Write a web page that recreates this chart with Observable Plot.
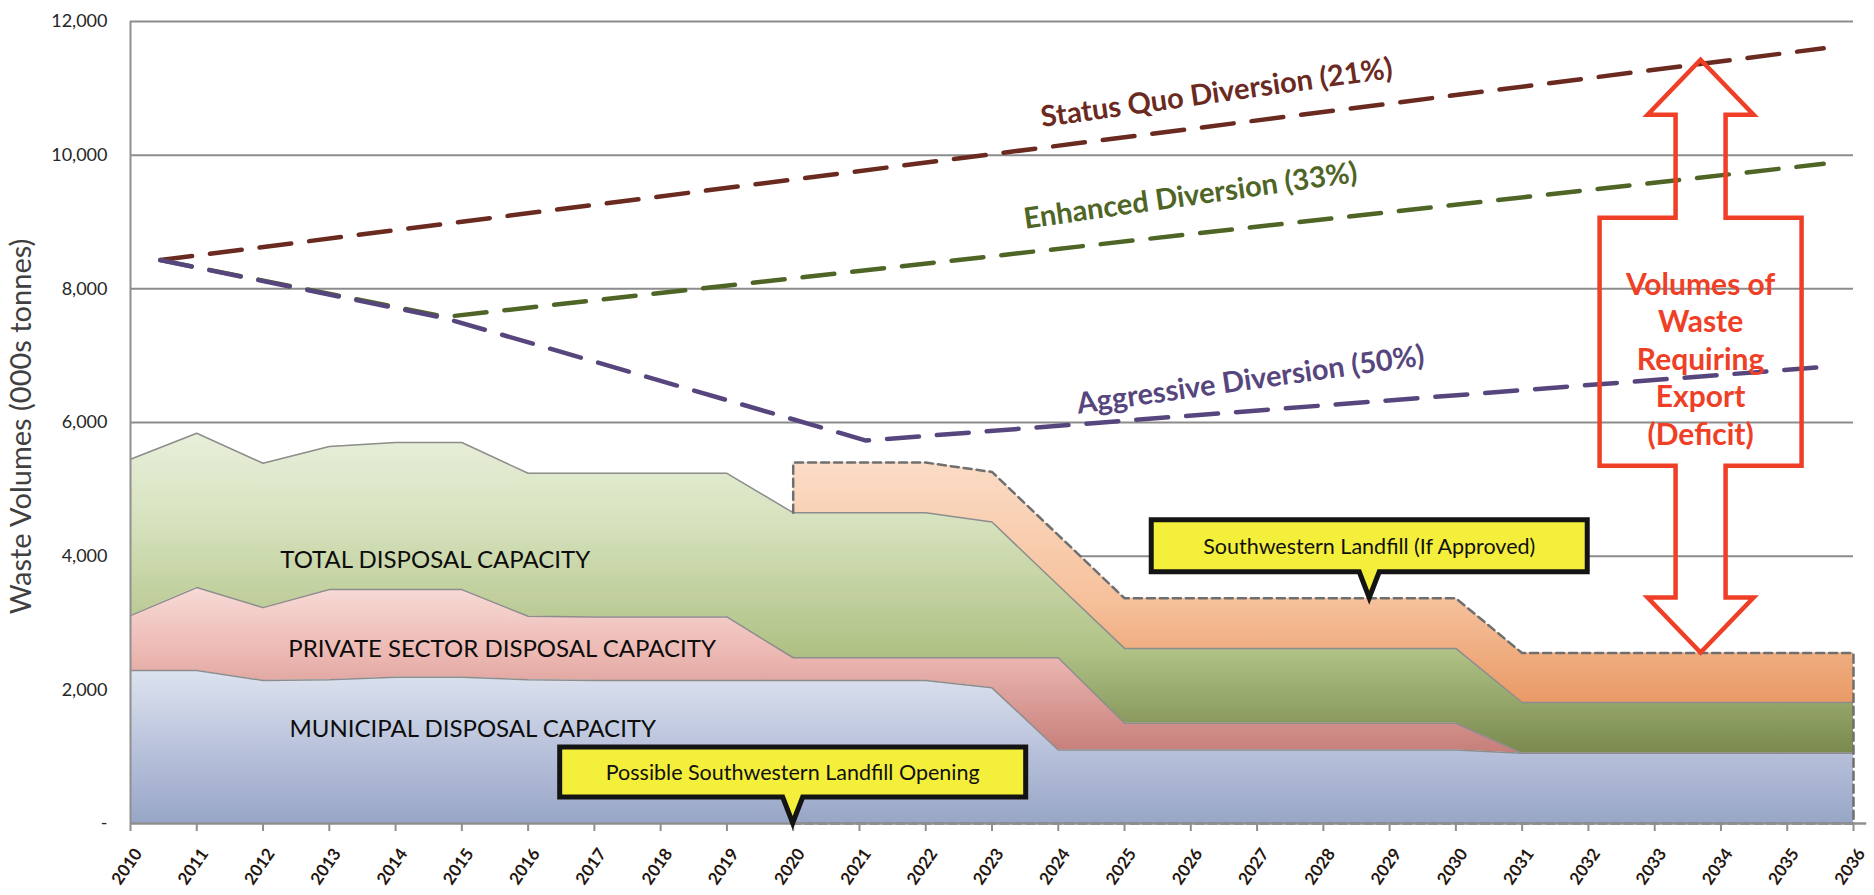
<!DOCTYPE html>
<html>
<head>
<meta charset="utf-8">
<script src="https://cdn.jsdelivr.net/npm/d3@7"></script>
<script src="https://cdn.jsdelivr.net/npm/@observablehq/plot@0.6"></script>
<style>
  html, body { margin: 0; padding: 0; background: #ffffff; }
  #chart svg { display: block; }
</style>
</head>
<body>
<div id="chart"></div>
<script>
// ---------- data ----------
const years = [2010,2011,2012,2013,2014,2015,2016,2017,2018,2019,2020,2021,2022,2023,2024,2025,2026,2027,2028,2029,2030,2031,2032,2033,2034,2035,2036];
const yTicks = [0, 2000, 4000, 6000, 8000, 10000, 12000];

// capacity bands (000s tonnes)
const municipal     = [2290,2290,2140,2150,2190,2190,2150,2140,2140,2140,2140,2140,2140,2030,1100,1100,1100,1100,1100,1100,1100,1050,1050,1050,1050,1050,1050];
const privateSector = [820,1240,1090,1350,1310,1310,950,950,950,950,340,340,340,450,1380,400,400,400,400,400,400,0,0,0,0,0,0];
const totalCapacity = [5450,5840,5390,5640,5700,5700,5240,5240,5240,5240,4650,4650,4650,4510,3565,2620,2620,2620,2620,2620,2620,1810,1810,1810,1810,1810,1810];

// Southwestern landfill (if approved), stacked on total capacity
const landfillYears = [2020,2021,2022,2023,2024,2025,2026,2027,2028,2029,2030,2031,2032,2033,2034,2035,2036];
const landfill      = [750,750,750,750,750,750,750,750,750,750,750,740,740,740,740,740,740];

// diversion scenarios (vertices)
const statusQuoX = [2010.45, 2035.55];
const statusQuoY = [8430, 11600];
const enhancedX  = [2010.45, 2014.75, 2035.55];
const enhancedY  = [8430, 7580, 9870];
const aggressiveX = [2010.45, 2014.75, 2021.1, 2035.55];
const aggressiveY = [8430, 7560, 5730, 6830];

const yLabel = "Waste Volumes (000s tonnes)";
const arrowLines = ["Volumes of", "Waste", "Requiring", "Export", "(Deficit)"];

// ---------- tables ----------
const rows = years.map((year, i) => ({
  year,
  mun: municipal[i],
  priv: municipal[i] + privateSector[i],
  total: totalCapacity[i]
}));
const lfRows = landfillYears.map((year, i) => {
  const t = totalCapacity[years.indexOf(year)];
  return {year, base: t, top: t + landfill[i]};
});
const outline = [{year: lfRows[0].year, v: lfRows[0].base}]
  .concat(lfRows.map(d => ({year: d.year, v: d.top})))
  .concat([{year: landfillYears[landfillYears.length - 1], v: 0}, {year: landfillYears[0], v: 0}]);
const toPts = (xs, ys) => xs.map((x, i) => ({x, y: ys[i]}));
const sq = toPts(statusQuoX, statusQuoY);
const en = toPts(enhancedX, enhancedY);
const ag = toPts(aggressiveX, aggressiveY);

const FONT = "Lato, 'Open Sans', sans-serif";
const dash = {strokeDasharray: "32,18", strokeWidth: 4.5, strokeLinecap: "round"};

const plot = Plot.plot({
  width: 1874,
  height: 895,
  marginLeft: 130,
  marginRight: 21,
  marginTop: 21,
  marginBottom: 72,
  style: {fontFamily: FONT, background: "#ffffff", overflow: "visible"},
  x: {domain: [2010, 2036]},
  y: {domain: [0, 12000]},
  marks: [
    Plot.gridY(yTicks.filter(d => d > 0), {stroke: "#8c8c8c", strokeOpacity: 1, strokeWidth: 2}),
    // areas
    Plot.areaY(rows, {x: "year", y1: "priv", y2: "total", fill: "url(#gGreen)"}),
    Plot.areaY(rows, {x: "year", y1: "mun", y2: "priv", fill: "url(#gPink)"}),
    Plot.areaY(rows, {x: "year", y1: 0, y2: "mun", fill: "url(#gBlue)"}),
    Plot.areaY(lfRows, {x: "year", y1: "base", y2: "top", fill: "url(#gOrange)"}),
    Plot.line(rows, {x: "year", y: "total", stroke: "#8d8d8d", strokeWidth: 1.5}),
    Plot.line(rows, {x: "year", y: "priv", stroke: "#8d8d8d", strokeWidth: 1.5}),
    Plot.line(rows, {x: "year", y: "mun", stroke: "#8d8d8d", strokeWidth: 1.5}),
    Plot.line(outline, {x: "year", y: "v", stroke: "#6f6f6f", strokeWidth: 2.5, strokeDasharray: "8,5"}),
    // axes
    Plot.ruleX([2010], {stroke: "#8f8f8f", strokeWidth: 2}),
    Plot.ruleY([0], {x1: 2010, x2: 2036.2, stroke: "#8f8f8f", strokeWidth: 2.5}),
    Plot.axisX({ticks: years, tickFormat: () => "", tickSize: 8, stroke: "#8f8f8f", strokeWidth: 2, label: null}),
    Plot.text(years, {x: d => d, y: 0, text: d => String(d), rotate: -55, textAnchor: "end", lineAnchor: "middle",
      dx: 8, dy: 27, fontWeight: "bold", fontSize: 17, fill: "#24160f"}),
    Plot.axisY({ticks: yTicks, tickFormat: d => d === 0 ? "-" : d3.format(",")(d), tickSize: 0, tickPadding: 23,
      fontSize: 18, color: "#262626", label: null}),
    Plot.text([yLabel], {frameAnchor: "left", dx: -100, dy: 4, rotate: -90, textAnchor: "middle", lineAnchor: "bottom",
      fontSize: 29, fill: "#404040", text: d => d}),
    // diversion lines
    Plot.line(sq, {x: "x", y: "y", stroke: "#6b2a1f", ...dash}),
    Plot.line(en, {x: "x", y: "y", stroke: "#4f6526", ...dash}),
    Plot.line(ag, {x: "x", y: "y", stroke: "#57467e", ...dash}),
    Plot.text(["Status Quo Diversion (21%)"], {x: 2023.76, y: 10420, text: d => d, rotate: -8, textAnchor: "start",
      lineAnchor: "bottom", fontSize: 29, fontWeight: "bold", fill: "#6b2a1f"}),
    Plot.text(["Enhanced Diversion (33%)"], {x: 2023.5, y: 8900, text: d => d, rotate: -8, textAnchor: "start",
      lineAnchor: "bottom", fontSize: 29, fontWeight: "bold", fill: "#4f6526"}),
    Plot.text(["Aggressive Diversion (50%)"], {x: 2024.3, y: 6130, text: d => d, rotate: -8, textAnchor: "start",
      lineAnchor: "bottom", fontSize: 29, fontWeight: "bold", fill: "#57467e"}),
    // area labels
    Plot.text(["TOTAL DISPOSAL CAPACITY"], {x: 2012.26, y: 3830, text: d => d, textAnchor: "start", lineAnchor: "bottom",
      fontSize: 24, fill: "#0d0d0d"}),
    Plot.text(["PRIVATE SECTOR DISPOSAL CAPACITY"], {x: 2012.38, y: 2490, text: d => d, textAnchor: "start", lineAnchor: "bottom",
      fontSize: 24, fill: "#0d0d0d"}),
    Plot.text(["MUNICIPAL DISPOSAL CAPACITY"], {x: 2012.40, y: 1290, text: d => d, textAnchor: "start", lineAnchor: "bottom",
      fontSize: 24, fill: "#0d0d0d"})
  ]
});

document.getElementById("chart").appendChild(plot);

// ---------- gradients, arrow, callouts (positioned through the plot scales) ----------
const xs = plot.scale("x"), ys = plot.scale("y");
const svg = d3.select(plot);
const defs = svg.insert("defs", ":first-child");
function grad(id, stops) {
  const yA = ys.apply(stops[0][0]), yB = ys.apply(stops[stops.length - 1][0]);
  const g = defs.append("linearGradient").attr("id", id).attr("gradientUnits", "userSpaceOnUse")
    .attr("x1", 0).attr("x2", 0).attr("y1", yA).attr("y2", yB);
  stops.forEach(([v, c]) => g.append("stop").attr("offset", (ys.apply(v) - yA) / (yB - yA)).attr("stop-color", c));
}
grad("gBlue",   [[2300, "#dde3ef"], [1000, "#b5bfd9"], [0, "#98a6c7"]]);
grad("gPink",   [[3500, "#f7d9d5"], [2500, "#ecb7b1"], [1050, "#c67e79"]]);
grad("gGreen",  [[5850, "#e8efdb"], [4500, "#d6e2bd"], [2600, "#b1c286"], [1050, "#7a8a4e"]]);
grad("gOrange", [[5400, "#fbdcc6"], [3400, "#f6c29d"], [1800, "#e99a66"]]);

// double-headed deficit arrow
const ax = xs.apply(2033.7);
const tTop = ys.apply(11420), tBot = ys.apply(2550);
const hb1 = tTop + 55, boxT = tTop + 158, boxB = tTop + 406, hb2 = tBot - 55;
const sw = 25, hw = 53, bw = 101;
const ap = [
  [ax, tTop], [ax + hw, hb1], [ax + sw, hb1], [ax + sw, boxT], [ax + bw, boxT], [ax + bw, boxB], [ax + sw, boxB],
  [ax + sw, hb2], [ax + hw, hb2], [ax, tBot], [ax - hw, hb2], [ax - sw, hb2], [ax - sw, boxB], [ax - bw, boxB],
  [ax - bw, boxT], [ax - sw, boxT], [ax - sw, hb1], [ax - hw, hb1]
];
svg.append("path").attr("d", "M" + ap.map(p => p.join(",")).join("L") + "Z")
  .attr("fill", "none").attr("stroke", "#ef3f27").attr("stroke-width", 4.5).attr("stroke-linejoin", "miter");
arrowLines.forEach((t, i) => {
  svg.append("text").attr("x", ax).attr("y", tTop + 235 + i * 37.5).attr("text-anchor", "middle")
    .attr("font-family", FONT).attr("font-weight", "bold").attr("font-size", 30).attr("fill", "#ef3f27").text(t);
});

// callouts
function callout(px, py, halfW, top, bottom, text) {
  const x0 = px - halfW, x1 = px + halfW, y0 = py - top, y1 = py - bottom, h = 10;
  svg.append("path")
    .attr("d", `M${x0},${y0}H${x1}V${y1}H${px + h}L${px},${py}L${px - h},${y1}H${x0}Z`)
    .attr("fill", "#f4ef3b").attr("stroke", "#141414").attr("stroke-width", 5).attr("stroke-linejoin", "miter");
  svg.append("text").attr("x", px).attr("y", (y0 + y1) / 2).attr("dy", "0.36em").attr("text-anchor", "middle")
    .attr("font-family", FONT).attr("font-size", 21.5).attr("fill", "#111").text(text);
}
callout(xs.apply(2020), ys.apply(0), 233, 76, 26, "Possible Southwestern Landfill Opening");
callout(xs.apply(2028.7), ys.apply(3370), 218, 78, 26, "Southwestern Landfill (If Approved)");
</script>
</body>
</html>
